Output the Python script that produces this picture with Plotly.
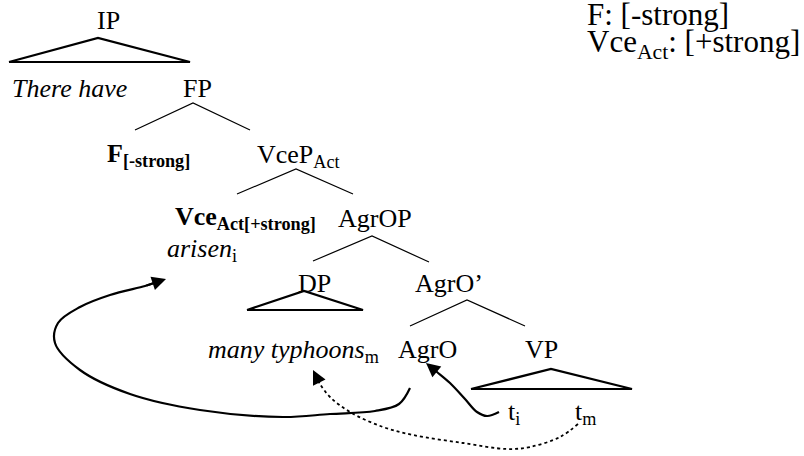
import plotly.graph_objects as go

W, H = 804, 456
FONT = "Liberation Serif"

# ---- tree node labels ----
node_labels = ["IP", "<i>There have</i>", "FP", "<b>F<sub>[-strong]</sub></b>", "VceP<sub>Act</sub>",
               "<b>Vce<sub>Act[+strong]</sub></b>", "<i>arisen</i><sub>i</sub>", "AgrOP", "DP", "AgrO’",
               "<i>many typhoons</i><sub>m</sub>", "AgrO", "VP", "t<sub>i</sub>", "t<sub>m</sub>"]
node_left = [97, 12, 183, 107, 257, 175, 167, 338, 298, 415, 208, 398, 525, 508, 575]
node_base = [29, 97, 97, 162, 163, 225, 257, 227, 292, 292, 358, 358, 358, 420, 420]

# ---- feature notes (top right) ----
note_labels = ["F: [-strong]", "Vce<sub>Act</sub>: [+strong]"]
note_left = [588, 588]
note_base = [26, 53]

# ---- binary branches: apex, left leaf end, right leaf end ----
branch_apex_x = [193, 296, 372, 467]
branch_apex_y = [103, 169, 236, 300]
branch_left_x = [135, 237, 313, 410]
branch_left_y = [130, 194, 261, 326]
branch_right_x = [250, 353, 429, 525]
branch_right_y = [130, 194, 262, 326]

# ---- triangles (IP, DP, VP) ----
tri_apex_x = [98, 304, 551]
tri_apex_y = [38, 291, 369]
tri_left_x = [9, 247, 471]
tri_right_x = [190, 363, 632]
tri_base_y = [62, 310, 389]

# ---- movement arrows ----
arrow1_x = [410, 399, 375, 330, 283, 200, 130, 80, 55, 58, 80, 110, 145, 166]
arrow1_y = [388, 404, 411, 414, 417, 410, 394, 370, 343, 323, 307, 295, 286, 279]
arrow2_x = [499, 487, 477, 465, 450, 437, 426]
arrow2_y = [412, 416, 412, 399, 383, 372, 363]
arrow3_x = [578, 560, 530, 507, 463, 413, 383, 350, 330, 320, 313]
arrow3_y = [424, 437, 447, 449, 443, 435, 427, 412, 397, 384, 370]


def px(x):
    return x / W


def py(y):
    return 1 - y / H


fig = go.Figure()

for i in range(len(branch_apex_x)):
    fig.add_trace(go.Scatter(
        x=[branch_left_x[i], branch_apex_x[i], branch_right_x[i]],
        y=[branch_left_y[i], branch_apex_y[i], branch_right_y[i]],
        mode="lines", line=dict(color="black", width=1.2), hoverinfo="skip"))

for i in range(len(tri_apex_x)):
    fig.add_trace(go.Scatter(
        x=[tri_left_x[i], tri_apex_x[i], tri_right_x[i], tri_left_x[i]],
        y=[tri_base_y[i], tri_apex_y[i], tri_base_y[i], tri_base_y[i]],
        mode="lines", line=dict(color="black", width=2.2), hoverinfo="skip"))

for ax_, ay_, dash, wd in [(arrow1_x, arrow1_y, "solid", 2.2),
                           (arrow2_x, arrow2_y, "solid", 2.2),
                           (arrow3_x, arrow3_y, "dot", 1.8)]:
    fig.add_trace(go.Scatter(x=ax_[:-1] + [ax_[-1] - 0.6 * (ax_[-1] - ax_[-2])],
                             y=ay_[:-1] + [ay_[-1] - 0.6 * (ay_[-1] - ay_[-2])],
                             mode="lines",
                             line=dict(color="black", width=wd, dash=dash, shape="spline", smoothing=1.0),
                             hoverinfo="skip"))

annotations = []
FS = 26
for lab, lx, by in zip(node_labels, node_left, node_base):
    annotations.append(dict(x=px(lx - 2), y=py(by - 0.9 * FS - 2), xref="paper", yref="paper", text=lab,
                            showarrow=False, xanchor="left", yanchor="top",
                            font=dict(family=FONT, size=FS, color="black")))
FS2 = 31
for lab, lx, by in zip(note_labels, note_left, note_base):
    annotations.append(dict(x=px(lx - 1), y=py(by - 0.9 * FS2 - 1), xref="paper", yref="paper", text=lab,
                            showarrow=False, xanchor="left", yanchor="top", borderpad=0, borderwidth=0,
                            font=dict(family=FONT, size=FS2, color="black")))

# arrowheads
for ax_, ay_ in [(arrow1_x, arrow1_y), (arrow2_x, arrow2_y), (arrow3_x, arrow3_y)]:
    annotations.append(dict(x=ax_[-1], y=ay_[-1], ax=ax_[-2], ay=ay_[-2],
                            xref="x", yref="y", axref="x", ayref="y", text="",
                            showarrow=True, arrowhead=2, arrowsize=1.4, arrowwidth=2,
                            arrowcolor="black", standoff=0))

fig.update_layout(
    width=W, height=H, margin=dict(l=0, r=0, t=0, b=0),
    paper_bgcolor="white", plot_bgcolor="white", showlegend=False,
    xaxis=dict(range=[0, W], visible=False, fixedrange=True),
    yaxis=dict(range=[H, 0], visible=False, fixedrange=True),
    annotations=annotations,
)

fig.write_html("out.html", config={"displayModeBar": False},
               post_script="document.body.style.margin='0px';")
